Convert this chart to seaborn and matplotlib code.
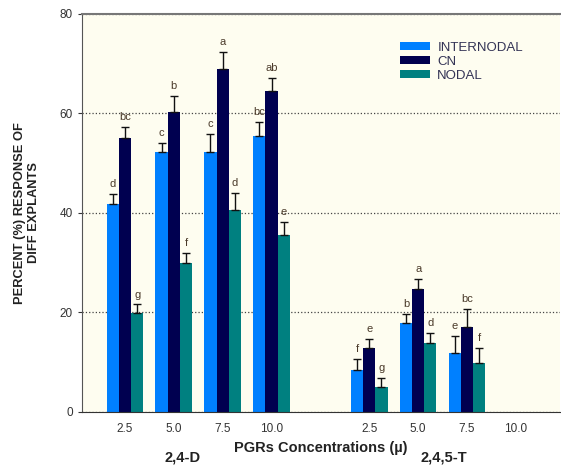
import pandas as pd
import numpy as np
import matplotlib
matplotlib.use("Agg")
import matplotlib.pyplot as plt
import seaborn as sns

plt.rcParams['font.family'] = ['Liberation Sans', 'DejaVu Sans']

# categories (gap slot between the two PGRs)
cat_keys = ['D2.5', 'D5.0', 'D7.5', 'D10.0', 'gap', 'T2.5', 'T5.0', 'T7.5', 'T10.0']
tick_labels = ['2.5', '5.0', '7.5', '10.0', '', '2.5', '5.0', '7.5', '10.0']
explants = ['INTERNODAL', 'CN', 'NODAL']

# 2,4-D values
internodal_d = [41.8, 52.3, 52.3, 55.5]
cn_d = [55.1, 60.2, 68.9, 64.5]
nodal_d = [19.8, 29.9, 40.6, 35.5]
internodal_d_err = [2.0, 1.8, 3.6, 2.8]
cn_d_err = [2.2, 3.4, 3.5, 2.7]
nodal_d_err = [1.8, 2.1, 3.5, 2.7]
internodal_d_let = ['d', 'c', 'c', 'bc']
cn_d_let = ['bc', 'b', 'a', 'ab']
nodal_d_let = ['g', 'f', 'd', 'e']

# 2,4,5-T values (no response at 10.0)
internodal_t = [8.5, 17.8, 11.8]
cn_t = [12.8, 24.7, 17.1]
nodal_t = [5.0, 13.8, 9.8]
internodal_t_err = [2.1, 1.9, 3.4]
cn_t_err = [1.9, 2.1, 3.5]
nodal_t_err = [1.9, 2.1, 3.1]
internodal_t_let = ['f', 'b', 'e']
cn_t_let = ['e', 'a', 'bc']
nodal_t_let = ['g', 'd', 'f']

colors = ['#0080FF', '#000050', '#008080']

rows = []
series = {
    'INTERNODAL': (internodal_d + internodal_t, internodal_d_err + internodal_t_err, internodal_d_let + internodal_t_let),
    'CN': (cn_d + cn_t, cn_d_err + cn_t_err, cn_d_let + cn_t_let),
    'NODAL': (nodal_d + nodal_t, nodal_d_err + nodal_t_err, nodal_d_let + nodal_t_let),
}
keys_used = cat_keys[:4] + cat_keys[5:8]
for ex in explants:
    vals, errs, lets = series[ex]
    for k, v, e, l in zip(keys_used, vals, errs, lets):
        rows.append({'conc': k, 'explant': ex, 'value': v, 'err': e, 'letter': l})
df = pd.DataFrame(rows)

fig = plt.figure(figsize=(5.61, 4.66), dpi=100)
ax = fig.add_axes([0.146, 0.116, 0.852, 0.854])
ax.set_facecolor('#FEFDF0')

sns.barplot(data=df, x='conc', y='value', hue='explant', order=cat_keys,
            hue_order=explants, palette=colors, errorbar=None, width=0.75,
            saturation=1, ax=ax)

# error bars + significance letters
bar_containers = list(ax.containers)
for i, cont in enumerate(bar_containers):
    ex = explants[i]
    for bar in cont:
        h = bar.get_height()
        if np.isnan(h) or h == 0:
            continue
        xc = bar.get_x() + bar.get_width() / 2
        k = cat_keys[int(round(xc))]
        r = df[(df['conc'] == k) & (df['explant'] == ex)].iloc[0]
        ax.errorbar(xc, h, yerr=[[0], [r['err']]], fmt='none', ecolor='#111111',
                    elinewidth=1, capsize=3, capthick=1)
        ax.text(xc, h + r['err'] + 1.0, r['letter'], ha='center', va='bottom',
                fontsize=8, color='#4a3a2a')

ax.set_ylim(0, 80)
ax.set_xlim(-0.88, 8.9)
ax.set_yticks([0, 20, 40, 60, 80])
ax.set_xticks(range(len(cat_keys)))
ax.set_xticklabels(tick_labels)
ax.tick_params(axis='x', length=0, labelsize=8.5, colors='#333333', pad=8)
ax.tick_params(axis='y', length=3, labelsize=8.5, colors='#333333')
ax.yaxis.grid(True, linestyle=':', color='#444444', linewidth=0.9)
ax.set_axisbelow(True)

ax.spines['right'].set_visible(False)
ax.spines['top'].set_color('#777777')
ax.spines['top'].set_linewidth(1.5)
ax.spines['left'].set_color('#555555')
ax.spines['bottom'].set_color('#333333')

ax.set_xlabel('PGRs Concentrations (\u00b5)', fontsize=10.5, fontweight='bold',
              color='#222222', labelpad=4)
ax.set_ylabel('PERCENT (%) RESPONSE OF\nDIFF EXPLANTS', fontsize=9.3,
              fontweight='bold', color='#222222', labelpad=14)

ax.text(1.18, -0.115, '2,4-D', transform=ax.get_xaxis_transform(),
        ha='center', va='center', fontsize=10.5, fontweight='bold', color='#222222')
ax.text(6.53, -0.115, '2,4,5-T', transform=ax.get_xaxis_transform(),
        ha='center', va='center', fontsize=10.5, fontweight='bold', color='#222222')

leg = ax.legend(loc='upper left', bbox_to_anchor=(0.64, 0.96), frameon=False,
                fontsize=9.5, handlelength=2.3, handleheight=0.55,
                labelspacing=0.15, handletextpad=0.55, title=None)
for t in leg.get_texts():
    t.set_color('#333355')

fig.savefig('out.png', dpi=100, facecolor='white')
